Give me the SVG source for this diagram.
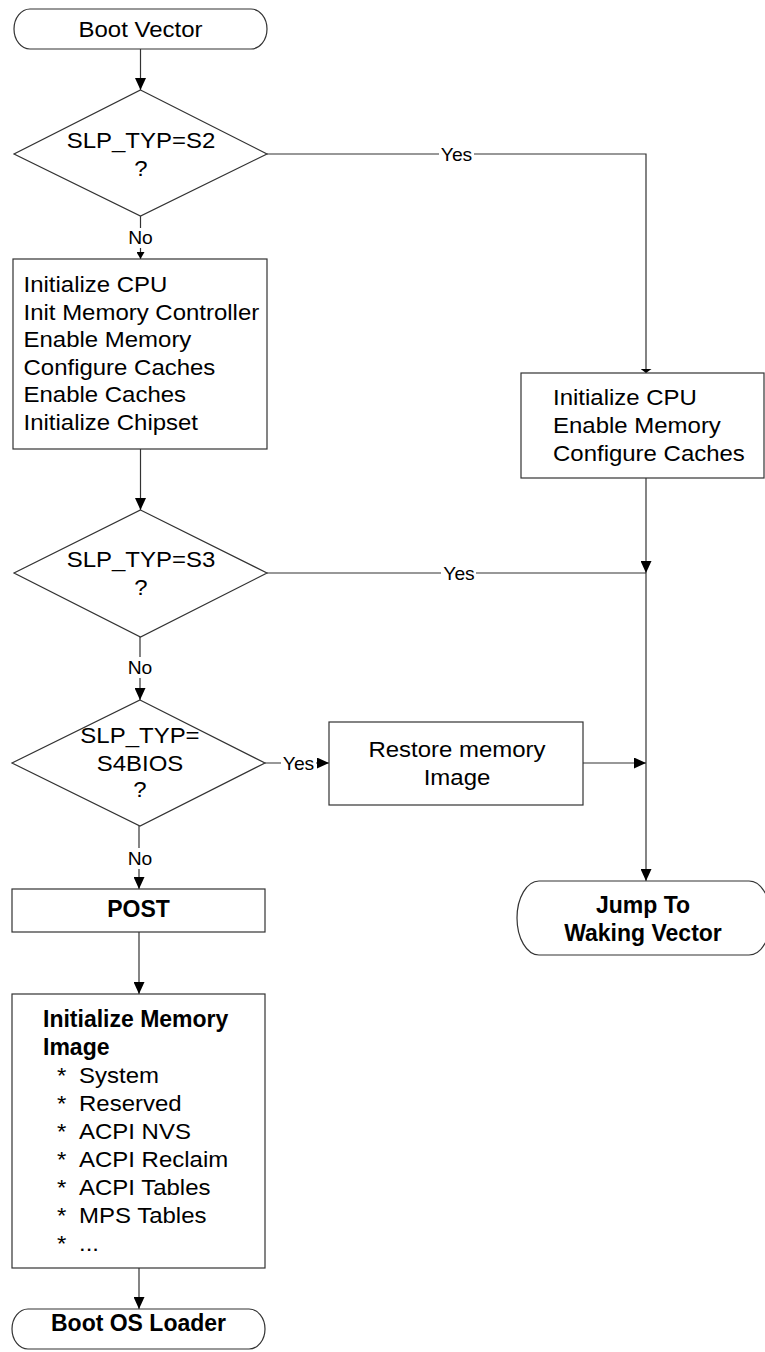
<svg xmlns="http://www.w3.org/2000/svg" width="765" height="1352" viewBox="0 0 765 1352">
<style>
.ln{stroke:#333;stroke-width:1.2;fill:none}
.shp{fill:#fff;stroke:#333;stroke-width:1.2}
.t{font-family:"Liberation Sans",Arial,sans-serif;font-size:22px;fill:#000}
.m{text-anchor:middle}
.b{font-family:"Liberation Sans",Arial,sans-serif;font-size:23px;font-weight:bold;fill:#000;text-anchor:middle}
.bl{font-family:"Liberation Sans",Arial,sans-serif;font-size:23px;font-weight:bold;fill:#000}
.lbl{font-family:"Liberation Sans",Arial,sans-serif;font-size:17.5px;fill:#000;text-anchor:middle}
.bg{fill:#fff;stroke:none}
</style>
<defs>
<marker id="ah" markerWidth="12" markerHeight="11" refX="12" refY="5.5" orient="auto" markerUnits="userSpaceOnUse"><path d="M0,0 L12,5.5 L0,11 z" fill="#000"/></marker>
<marker id="as" markerWidth="7" markerHeight="8" refX="7" refY="4" orient="auto" markerUnits="userSpaceOnUse"><path d="M0,0 L7,4 L0,8 z" fill="#000"/></marker>
<marker id="at" markerWidth="4" markerHeight="11" refX="4" refY="5.5" orient="auto" markerUnits="userSpaceOnUse"><path d="M0,0 L4,5.5 L0,11 z" fill="#000"/></marker>
</defs>

<g id="connectors">
<path class="ln" d="M140.5,49 V90" marker-end="url(#ah)"/>
<path class="ln" d="M140.5,216 V259" marker-end="url(#as)"/>
<rect class="bg" x="126" y="228" width="30" height="20"/>
<text class="lbl" transform="translate(140.5,244) scale(1.1,1)">No</text>
<path class="ln" d="M267,154 H646 V373" marker-end="url(#at)"/>
<rect class="bg" x="439" y="145" width="35" height="18"/>
<text class="lbl" transform="translate(456.5,160.5) scale(1.1,1)">Yes</text>
<path class="ln" d="M140.5,449 V510" marker-end="url(#ah)"/>
<path class="ln" d="M267,573 H646"/>
<rect class="bg" x="441" y="564" width="35" height="18"/>
<text class="lbl" transform="translate(459,579.5) scale(1.1,1)">Yes</text>
<path class="ln" d="M646,478 V573" marker-end="url(#ah)"/>
<path class="ln" d="M646,573 V881" marker-end="url(#ah)"/>
<path class="ln" d="M140,637 V700" marker-end="url(#ah)"/>
<rect class="bg" x="125" y="657" width="30" height="21"/>
<text class="lbl" transform="translate(140,674) scale(1.1,1)">No</text>
<path class="ln" d="M265,763 H329" marker-end="url(#ah)"/>
<rect class="bg" x="281" y="754" width="35" height="18"/>
<text class="lbl" transform="translate(298.5,769.5) scale(1.1,1)">Yes</text>
<path class="ln" d="M583,763 H646" marker-end="url(#ah)"/>
<path class="ln" d="M139,826 V889" marker-end="url(#ah)"/>
<rect class="bg" x="124" y="848" width="30" height="21"/>
<text class="lbl" transform="translate(140,865) scale(1.1,1)">No</text>
<path class="ln" d="M139,932 V994" marker-end="url(#ah)"/>
<path class="ln" d="M139,1268 V1309" marker-end="url(#ah)"/>
</g>

<g id="boot-vector">
<rect class="shp" x="14" y="9" width="253" height="40" rx="16" ry="20"/>
<text class="t m" transform="translate(140.5,36.5) scale(1.09,1)">Boot Vector</text>
</g>

<g id="decision-s2">
<polygon class="shp" points="140.5,90 267,154 140.5,216 14,154"/>
<text class="t m" transform="translate(141,147.5) scale(1.09,1)">SLP_TYP=S2</text>
<text class="t m" transform="translate(141,175.5) scale(1.09,1)">?</text>
</g>

<g id="init-full">
<rect class="shp" x="13" y="259" width="254" height="190"/>
<text class="t" transform="translate(23.5,292) scale(1.09,1)">Initialize CPU</text>
<text class="t" transform="translate(23.5,319.6) scale(1.09,1)">Init Memory Controller</text>
<text class="t" transform="translate(23.5,347.2) scale(1.09,1)">Enable Memory</text>
<text class="t" transform="translate(23.5,374.8) scale(1.09,1)">Configure Caches</text>
<text class="t" transform="translate(23.5,402.4) scale(1.09,1)">Enable Caches</text>
<text class="t" transform="translate(23.5,430) scale(1.09,1)">Initialize Chipset</text>
</g>

<g id="init-s2">
<rect class="shp" x="521" y="373" width="243" height="105"/>
<text class="t" transform="translate(553,405) scale(1.09,1)">Initialize CPU</text>
<text class="t" transform="translate(553,433) scale(1.09,1)">Enable Memory</text>
<text class="t" transform="translate(553,461) scale(1.09,1)">Configure Caches</text>
</g>

<g id="decision-s3">
<polygon class="shp" points="140.5,510 267,573 140.5,637 14,573"/>
<text class="t m" transform="translate(141,567) scale(1.09,1)">SLP_TYP=S3</text>
<text class="t m" transform="translate(141,595) scale(1.09,1)">?</text>
</g>

<g id="decision-s4bios">
<polygon class="shp" points="140,700 265,763 140,826 12,763"/>
<text class="t m" transform="translate(140,743) scale(1.09,1)">SLP_TYP=</text>
<text class="t m" transform="translate(140,771) scale(1.09,1)">S4BIOS</text>
<text class="t m" transform="translate(140,797) scale(1.09,1)">?</text>
</g>

<g id="restore">
<rect class="shp" x="329" y="722" width="254" height="83"/>
<text class="t m" transform="translate(457,757) scale(1.09,1)">Restore memory</text>
<text class="t m" transform="translate(457,785) scale(1.09,1)">Image</text>
</g>

<g id="jump">
<rect class="shp" x="517" y="881" width="254" height="74" rx="22" ry="37"/>
<text class="b" x="643" y="913">Jump To</text>
<text class="b" x="643" y="941">Waking Vector</text>
</g>

<g id="post">
<rect class="shp" x="12" y="889" width="253" height="43"/>
<text class="b" x="138.5" y="917">POST</text>
</g>

<g id="init-memory-image">
<rect class="shp" x="12" y="994" width="253" height="274"/>
<text class="bl" x="43" y="1027">Initialize Memory</text>
<text class="bl" x="43" y="1055">Image</text>
<text class="t" transform="translate(57,1083) scale(1.09,1)">*<tspan x="20.2">System</tspan></text>
<text class="t" transform="translate(57,1111) scale(1.09,1)">*<tspan x="20.2">Reserved</tspan></text>
<text class="t" transform="translate(57,1139) scale(1.09,1)">*<tspan x="20.2">ACPI NVS</tspan></text>
<text class="t" transform="translate(57,1167) scale(1.09,1)">*<tspan x="20.2">ACPI Reclaim</tspan></text>
<text class="t" transform="translate(57,1195) scale(1.09,1)">*<tspan x="20.2">ACPI Tables</tspan></text>
<text class="t" transform="translate(57,1223) scale(1.09,1)">*<tspan x="20.2">MPS Tables</tspan></text>
<text class="t" transform="translate(57,1251) scale(1.09,1)">*<tspan x="20.2">...</tspan></text>
</g>

<g id="boot-os-loader">
<rect class="shp" x="12" y="1309" width="253" height="40" rx="16" ry="20"/>
<text class="b" x="138.5" y="1331">Boot OS Loader</text>
</g>
</svg>
